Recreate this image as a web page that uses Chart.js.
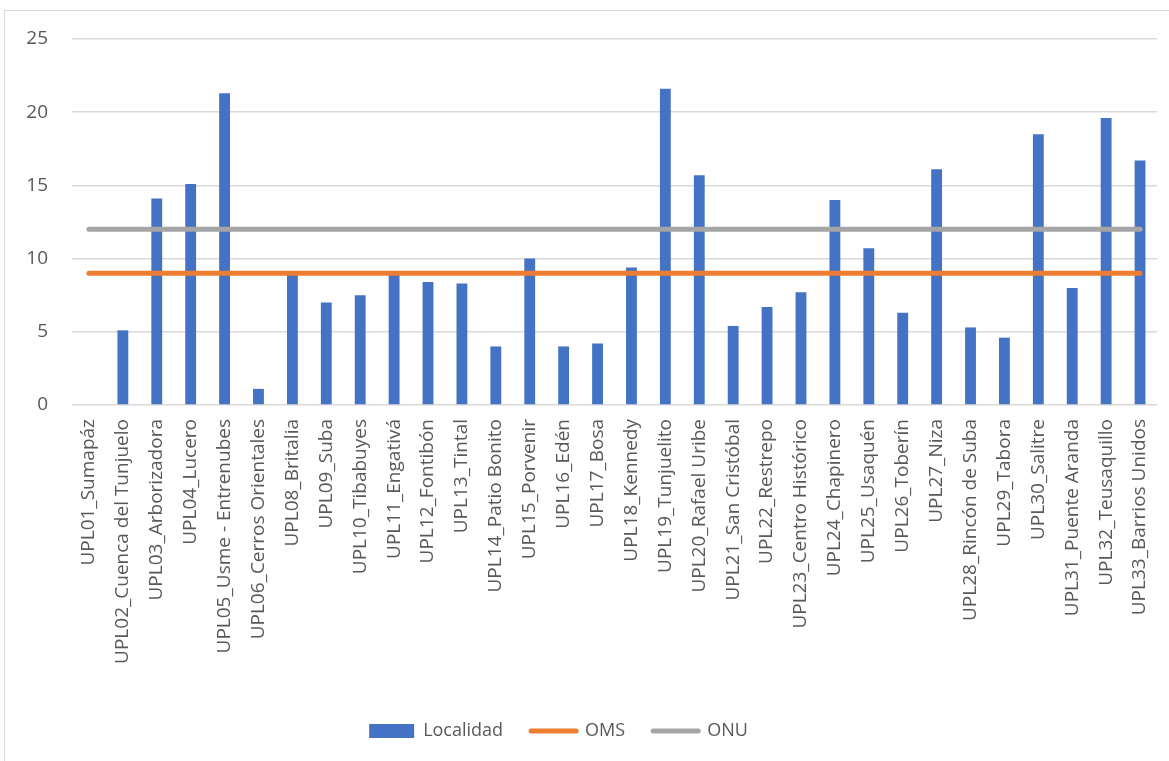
<!DOCTYPE html>
<html>
<head>
<meta charset="utf-8">
<script src="https://cdn.jsdelivr.net/npm/chart.js@4/dist/chart.umd.min.js"></script>
<style>
    html, body { margin: 0; padding: 0; background: #fff; overflow: hidden; }
    #wrap { position: absolute; left: 0; top: 0; width: 1169px; height: 766px; }
    #frame { position: absolute; left: 4px; top: 10px; width: 1200px; height: 800px;
             border: 1.5px solid #d9d9d9; pointer-events: none; }
</style>
</head>
<body>
<div id="frame"></div>
<div id="wrap"><canvas id="chart"></canvas></div>
<script>
const labels = [
    'UPL01_Sumapáz', 'UPL02_Cuenca del Tunjuelo', 'UPL03_Arborizadora', 'UPL04_Lucero',
    'UPL05_Usme - Entrenubes', 'UPL06_Cerros Orientales', 'UPL08_Britalia', 'UPL09_Suba',
    'UPL10_Tibabuyes', 'UPL11_Engativá', 'UPL12_Fontibón', 'UPL13_Tintal',
    'UPL14_Patio Bonito', 'UPL15_Porvenir', 'UPL16_Edén', 'UPL17_Bosa',
    'UPL18_Kennedy', 'UPL19_Tunjuelito', 'UPL20_Rafael Uribe', 'UPL21_San Cristóbal',
    'UPL22_Restrepo', 'UPL23_Centro Histórico', 'UPL24_Chapinero', 'UPL25_Usaquén',
    'UPL26_Toberín', 'UPL27_Niza', 'UPL28_Rincón de Suba', 'UPL29_Tabora',
    'UPL30_Salitre', 'UPL31_Puente Aranda', 'UPL32_Teusaquillo', 'UPL33_Barrios Unidos'
];

const localidad = [0, 5.1, 14.1, 15.1, 21.3, 1.1, 8.9, 7.0, 7.5, 8.9, 8.4, 8.3, 4.0, 10.0, 4.0, 4.2,
                   9.4, 21.6, 15.7, 5.4, 6.7, 7.7, 14.0, 10.7, 6.3, 16.1, 5.3, 4.6, 18.5, 8.0, 19.6, 16.7];

const oms = [9, 9, 9, 9, 9, 9, 9, 9, 9, 9, 9, 9, 9, 9, 9, 9,
             9, 9, 9, 9, 9, 9, 9, 9, 9, 9, 9, 9, 9, 9, 9, 9];

const onu = [12, 12, 12, 12, 12, 12, 12, 12, 12, 12, 12, 12, 12, 12, 12, 12,
             12, 12, 12, 12, 12, 12, 12, 12, 12, 12, 12, 12, 12, 12, 12, 12];

const yTicks = [0, 5, 10, 15, 20, 25];

const textColor = '#595959';
const fontFamily = '"Open Sans", sans-serif';

// el cuadro de la leyenda queda un poco a la izquierda del centro
const legendShift = {
    id: 'legendShift',
    afterLayout: function(chart) {
        chart.legend.left -= 40;
    }
};

const ctx = document.getElementById('chart').getContext('2d');
const myChart = new Chart(ctx, {
    data: {
        labels: labels,
        datasets: [
            {
                type: 'bar',
                label: 'Localidad',
                data: localidad,
                backgroundColor: '#4472c4',
                borderWidth: 0,
                categoryPercentage: 1,
                barPercentage: 0.32,
                order: 2
            },
            {
                type: 'line',
                label: 'OMS',
                data: oms,
                borderColor: '#ed7d31',
                backgroundColor: '#ed7d31',
                borderWidth: 5,
                borderCapStyle: 'round',
                pointRadius: 0,
                order: 1
            },
            {
                type: 'line',
                label: 'ONU',
                data: onu,
                borderColor: '#a5a5a5',
                backgroundColor: '#a5a5a5',
                borderWidth: 5,
                borderCapStyle: 'round',
                pointRadius: 0,
                order: 1
            }
        ]
    },
    plugins: [legendShift],
    options: {
        responsive: true,
        maintainAspectRatio: false,
        animation: false,
        layout: {
            padding: { top: 39, left: 0, right: 12, bottom: 16 }
        },
        scales: {
            x: {
                grid: { display: false, drawTicks: false },
                border: { display: false },
                ticks: {
                    autoSkip: false,
                    maxRotation: 90,
                    minRotation: 90,
                    padding: 14,
                    color: textColor,
                    font: { family: fontFamily, size: 19 }
                },
                afterFit: function(scale) {
                    scale.height = 289;
                    scale.paddingLeft = 0;
                    scale.paddingRight = 0;
                }
            },
            y: {
                min: 0,
                max: 25,
                grid: { color: '#d9d9d9', lineWidth: 1.5, drawTicks: false },
                border: { display: false },
                afterBuildTicks: function(scale) {
                    scale.ticks = yTicks.map(v => ({ value: v }));
                },
                ticks: {
                    padding: 24,
                    color: textColor,
                    font: { family: fontFamily, size: 19 }
                },
                afterFit: function(scale) {
                    scale.width = 72;
                }
            }
        },
        plugins: {
            legend: {
                position: 'bottom',
                labels: {
                    usePointStyle: true,
                    pointStyleWidth: 45,
                    boxHeight: 14,
                    padding: 28,
                    color: textColor,
                    font: { family: fontFamily, size: 18 },
                    generateLabels: function(chart) {
                        return chart.data.datasets.map((ds, i) => ({
                            text: ds.label,
                            fillStyle: ds.type === 'line' ? ds.borderColor : ds.backgroundColor,
                            strokeStyle: ds.type === 'line' ? ds.borderColor : ds.backgroundColor,
                            lineWidth: ds.type === 'line' ? 5 : 0,
                            lineCap: 'round',
                            pointStyle: ds.type === 'line' ? 'line' : 'rect',
                            fontColor: textColor,
                            hidden: false,
                            datasetIndex: i
                        }));
                    }
                }
            },
            tooltip: { enabled: false }
        }
    }
});
</script>
</body>
</html>
